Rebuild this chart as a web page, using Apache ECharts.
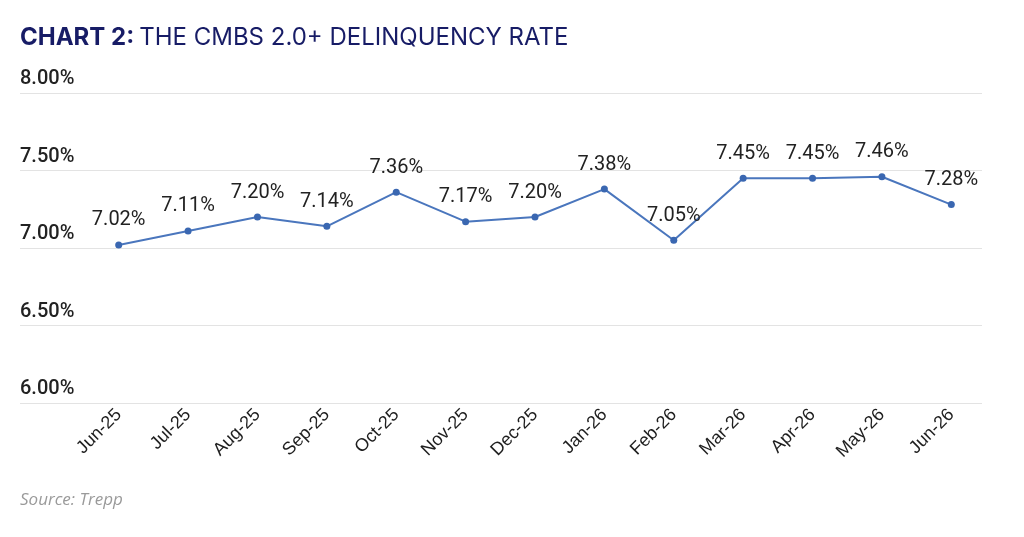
<!DOCTYPE html>
<html>
<head>
<meta charset="utf-8">
<script src="https://cdn.jsdelivr.net/npm/echarts@6/dist/echarts.min.js"></script>
<style>
  html, body { margin: 0; padding: 0; background: #fff; }
  #chart { width: 1024px; height: 537px; }
</style>
</head>
<body>
<div id="chart"></div>
<script>
const months = ['Jun-25', 'Jul-25', 'Aug-25', 'Sep-25', 'Oct-25', 'Nov-25', 'Dec-25',
  'Jan-26', 'Feb-26', 'Mar-26', 'Apr-26', 'May-26', 'Jun-26']
const delinquencyRate = [7.02, 7.11, 7.20, 7.14, 7.36, 7.17, 7.20, 7.38, 7.05, 7.45, 7.45, 7.46, 7.28]
const yMin = 6
const yMax = 8
const yStep = 0.5

const chart = echarts.init(document.getElementById('chart'))

const option = {
  backgroundColor: '#ffffff',
  animation: false,
  title: {
    text: '{b|CHART 2:} {r|THE CMBS 2.0+ DELINQUENCY RATE}',
    left: 15,
    top: 21,
    textStyle: {
      rich: {
        b: { fontFamily: 'Inter', fontWeight: 'bold', fontSize: 24, color: '#171c66' },
        r: { fontFamily: 'Inter', fontWeight: 'normal', fontSize: 24, color: '#171c66' }
      }
    }
  },
  graphic: [{
    type: 'text',
    left: 20,
    top: 492,
    style: {
      text: 'Source: Trepp',
      fontFamily: 'Open Sans',
      fontStyle: 'italic',
      fontSize: 17,
      fill: '#9a9a9a'
    }
  }],
  grid: [
    // data grid
    { left: 84, right: 38, top: 93, bottom: 134 },
    // gridlines only, full width
    { left: 20, right: 42, top: 93, bottom: 134 }
  ],
  xAxis: [
    {
      gridIndex: 0,
      type: 'category',
      data: months,
      boundaryGap: true,
      axisLine: { show: false },
      axisTick: { show: false },
      axisLabel: {
        rotate: 45,
        margin: 9,
        fontFamily: 'Liberation Sans',
        fontSize: 18,
        color: '#1e1e1e'
      }
    },
    { gridIndex: 1, type: 'value', show: false }
  ],
  yAxis: [
    {
      gridIndex: 0,
      type: 'value',
      min: yMin,
      max: yMax,
      interval: yStep,
      axisLine: { show: false },
      axisTick: { show: false },
      splitLine: { show: false },
      axisLabel: {
        margin: 64,
        align: 'left',
        verticalAlign: 'bottom',
        padding: [0, 0, 4, 0],
        fontFamily: 'Roboto',
        fontWeight: 500,
        fontSize: 20,
        color: '#222222',
        formatter: v => v.toFixed(2) + '%'
      }
    },
    {
      gridIndex: 1,
      type: 'value',
      min: yMin,
      max: yMax,
      interval: yStep,
      axisLine: { show: false },
      axisTick: { show: false },
      axisLabel: { show: false },
      splitLine: { show: true, lineStyle: { color: '#e3e3e3', width: 1 } }
    }
  ],
  series: [{
    name: 'Delinquency rate',
    type: 'line',
    xAxisIndex: 0,
    yAxisIndex: 0,
    data: delinquencyRate,
    symbol: 'circle',
    symbolSize: 7,
    itemStyle: { color: '#3a67b1' },
    lineStyle: { color: '#4a76bd', width: 2 },
    label: {
      show: true,
      position: 'top',
      distance: 11,
      fontFamily: 'Roboto',
      fontSize: 20,
      color: '#222222',
      formatter: p => p.value.toFixed(2) + '%'
    }
  }]
}

chart.setOption(option)
</script>
</body>
</html>
